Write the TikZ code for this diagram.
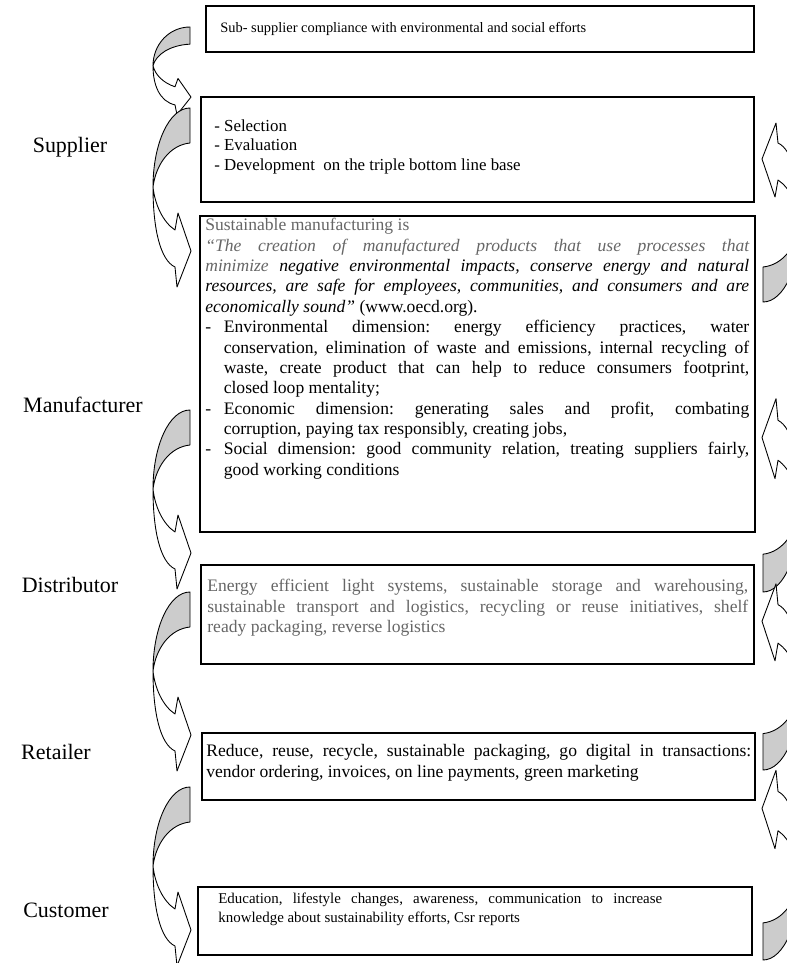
\documentclass[tikz,border=0pt]{standalone}
\usepackage{fontspec}
\setmainfont{Liberation Serif}
\usetikzlibrary{fit}

\definecolor{backgray}{gray}{0.8}
\definecolor{softtext}{gray}{0.4}

\newcommand{\dashitem}{\par\hangindent=10.5pt\hangafter=1\noindent\makebox[10.5pt][l]{-}}

\tikzset{
  panel/.style={draw, line width=0.6pt, inner sep=0pt},
  boxtext/.style={anchor=north west, inner sep=0pt, align=justify,
    font=\fontsize{10}{11.6}\selectfont\frenchspacing},
  rowlabel/.style={font=\fontsize{12.5}{14}\selectfont},
  arrowline/.style={draw, line width=0.5pt, line join=round},
  bentarrow/.pic={
    % front face with the head
    \draw[arrowline, fill=white] (-37,79) .. controls (-37,120) and (-30,152) .. (-15,159)
      -- (-13,179) -- (1,143) -- (-12,105) -- (-15,122)
      .. controls (-27,114) and (-35,97) .. cycle;
    % back face
    \draw[arrowline, fill=backgray] (0,0) -- (0,35)
      .. controls (-20,37) and (-34,56) .. (-37,79)
      .. controls (-37,36) and (-21,0) .. cycle;
  }
}

\begin{document}
\begin{tikzpicture}[x=0.02cm, y=-0.02cm]%% whole chain
    \useasboundingbox (0,0) rectangle (787,963);

    % row labels
    \node[rowlabel] (sup) at (70,147) {Supplier};
    \node[rowlabel] (man) at (83,405) {Manufacturer};
    \node[rowlabel] (dis) at (70,585) {Distributor};
    \node[rowlabel] (ret) at (56,752) {Retailer};
    \node[rowlabel] (cus) at (66,910) {Customer};

    % boxes
    \node[panel, fit={(206,6) (754,52)}] (subbox) {};
    \node[boxtext, align=left, font=\fontsize{8.2}{10}\selectfont] (subtext) at (220,22)
        {Sub- supplier compliance with environmental and social efforts};

    \node[panel, fit={(201,97) (754,202)}] (supbox) {};
    \node[boxtext, align=left, font=\fontsize{9.6}{11.3}\selectfont] (suptext) at (214,119)
        {- Selection\\- Evaluation\\- Development\ \ on the triple bottom line base};

    \node[panel, fit={(200,216) (755,532)}] (manbox) {};
    \node[boxtext, text width=10.88cm] (mantext) at (205,218)
        {{\color{softtext}Sustainable manufacturing is}\par
        \noindent{\color{softtext}\itshape “The creation of manufactured products that use processes that\linebreak
        minimize} \textit{negative environmental impacts, conserve energy and natural\linebreak
        resources, are safe for employees, communities, and consumers and are\linebreak
        economically sound”} (www.oecd.org).
        \dashitem Environmental dimension: energy efficiency practices, water\linebreak
        conservation, elimination of waste and emissions, internal recycling of\linebreak
        waste, create product that can help to reduce consumers footprint,\linebreak
        closed loop mentality;
        \dashitem Economic dimension: generating sales and profit, combating\linebreak
        corruption, paying tax responsibly, creating jobs,
        \dashitem Social dimension: good community relation, treating suppliers fairly,\linebreak
        good working conditions\par};

    \node[panel, fit={(201,565) (754,664)}] (disbox) {};
    \node[boxtext, text width=10.82cm, text=softtext] (distext) at (207,579)
        {Energy efficient light systems, sustainable storage and warehousing,\linebreak
        sustainable transport and logistics, recycling or reuse initiatives, shelf\linebreak
        ready packaging, reverse logistics};

    \node[panel, fit={(202,733) (755,800)}] (retbox) {};
    \node[boxtext, text width=10.9cm, font=\fontsize{10}{12.2}\selectfont\frenchspacing] (rettext) at (206,744)
        {Reduce, reuse, recycle, sustainable packaging, go digital in transactions:\linebreak
        vendor ordering, invoices, on line payments, green marketing};

    \node[panel, fit={(198,887) (752,955)}] (cusbox) {};
    \node[boxtext, text width=8.88cm, font=\fontsize{8.5}{10.8}\selectfont\frenchspacing] (custext) at (218,893)
        {Education, lifestyle changes, awareness, communication to increase\linebreak
        knowledge about sustainability efforts, Csr reports};

    % bent arrows, left side
    \pic[yscale=0.49] at (190,27) {bentarrow};
    \pic at (190,108) {bentarrow};
    \pic at (190,410) {bentarrow};
    \pic at (190,592) {bentarrow};
    \pic at (190,787) {bentarrow};

    % bent arrows, right side (cut by the edge)
    \begin{scope}
        \clip (0,0) rectangle (787,963);
        \pic[rotate=180] at (763,302) {bentarrow};
        \pic[rotate=180, yscale=1.08] at (763,592) {bentarrow};
        \pic[rotate=180, yscale=1.04] at (763,770) {bentarrow};
        \pic[rotate=180, yscale=1.06] at (763,960) {bentarrow};
    \end{scope}
\end{tikzpicture}
\end{document}
